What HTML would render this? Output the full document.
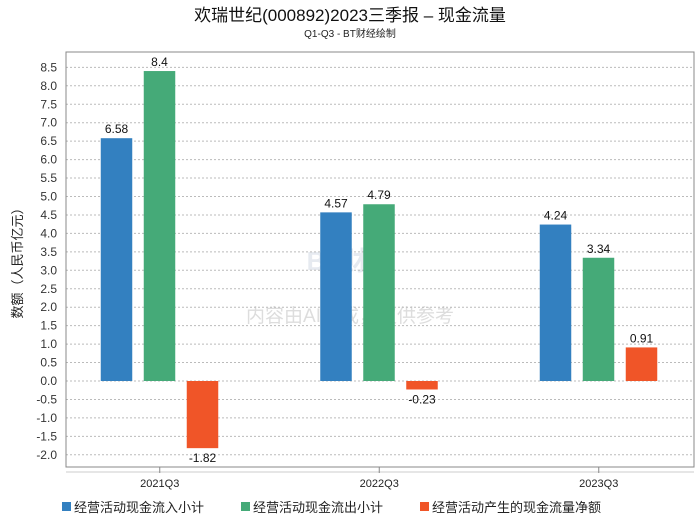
<!DOCTYPE html>
<html><head><meta charset="utf-8"><style>
body{margin:0;background:#fff;}
svg text{font-family:"Liberation Sans","Noto Sans CJK SC",sans-serif;}
</style></head><body>
<svg width="700" height="524" viewBox="0 0 700 524" xmlns="http://www.w3.org/2000/svg">
<text x="350" y="21" text-anchor="middle" font-size="17" fill="#111">欢瑞世纪(000892)2023三季报 – 现金流量</text>
<text x="350" y="37" text-anchor="middle" font-size="10" fill="#222">Q1-Q3 - BT财经绘制</text>
<text x="350" y="270" text-anchor="middle" font-size="26" fill="#e6eaf0" font-weight="bold">BT财经</text>
<text x="350" y="322" text-anchor="middle" font-size="19" fill="#ddd">内容由AI生成，仅供参考</text>
<g id="grid"></g>
<rect x="66" y="52" width="628" height="415" fill="none" stroke="#888"/>
<line x1="66" x2="694" y1="472" y2="472" stroke="#ccc"/>
<g id="bars"></g>
<text transform="translate(22,260) rotate(-90)" text-anchor="middle" font-size="13" fill="#222">数额（人民币亿元）</text>
<g font-size="13" fill="#222">
<rect x="62" y="502" width="9" height="9" fill="#3380c0"/>
<text x="74" y="512">经营活动现金流入小计</text>
<rect x="241" y="502" width="9" height="9" fill="#45aa78"/>
<text x="253" y="512">经营活动现金流出小计</text>
<rect x="420" y="502" width="9" height="9" fill="#f05528"/>
<text x="432" y="512">经营活动产生的现金流量净额</text>
</g>
</svg>
<script>
const categories=["2021Q3","2022Q3","2023Q3"];
const inflow=[6.58,4.57,4.24];
const outflow=[8.4,4.79,3.34];
const net=[-1.82,-0.23,0.91];
const yTicks=[8.5,8,7.5,7,6.5,6,5.5,5,4.5,4,3.5,3,2.5,2,1.5,1,0.5,0,-0.5,-1,-1.5,-2];
const NS="http://www.w3.org/2000/svg";
function y(v){return 381-v*36.9;}
function xc(i){return 50+(i+0.5)*219.5;}
const grid=document.getElementById('grid'),bars=document.getElementById('bars');
function mk(tag,attrs,parent,txt){const e=document.createElementNS(NS,tag);for(const k in attrs)e.setAttribute(k,attrs[k]);if(txt!=null)e.textContent=txt;parent.appendChild(e);return e;}
yTicks.forEach(t=>{
 const l=mk('line',{x1:66,x2:694,y1:y(t),y2:y(t),stroke:'#bbb','stroke-dasharray':'2,2'},grid);
 
 
 const tx=mk('text',{x:57,y:y(t)+4,'text-anchor':'end','font-size':12,fill:'#333'},grid,t.toFixed(1));
 
 
});
const series=[[inflow,'#3380c0','inflow'],[outflow,'#45aa78','outflow'],[net,'#f05528','net']];
categories.forEach((c,i)=>{
 const cx=xc(i);
 const tk=mk('line',{x1:cx,x2:cx,y1:467,y2:473,stroke:'#888'},bars);
 
 
 const lb=mk('text',{x:cx,y:487,'text-anchor':'middle','font-size':11,fill:'#222'},bars,c);
 
 
 series.forEach((s,j)=>{
  const v=s[0][i],bx=cx-59+j*43;
  const top=Math.min(y(v),y(0)),h=Math.abs(y(v)-y(0));
  const r=mk('rect',{x:bx,y:top,width:31.5,height:h,fill:s[1]},bars);
  
  
  const ly=v>=0?y(v)-5:y(v)+14;
  const t=mk('text',{x:bx+15.75,y:ly,'text-anchor':'middle','font-size':12,fill:'#111'},bars,String(v));
  
  
 });
});
</script>
</body></html>
